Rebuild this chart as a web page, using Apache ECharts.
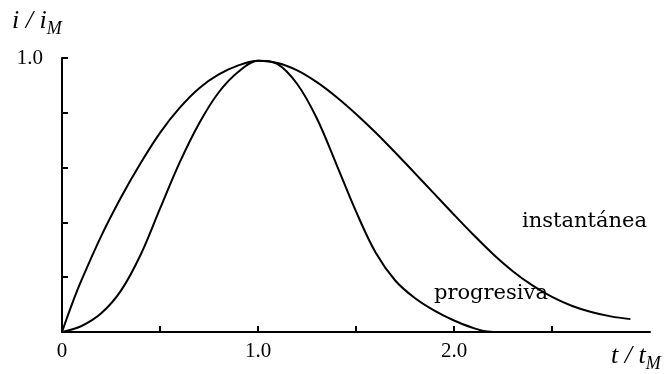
<!DOCTYPE html>
<html>
<head>
<meta charset="utf-8">
<script src="https://cdn.jsdelivr.net/npm/echarts@6/dist/echarts.min.js"></script>
<style>
html,body{margin:0;padding:0;background:#fff;}
#chart{width:664px;height:374px;}
</style>
</head>
<body>
<div id="chart"></div>
<script>
// Values (t/tM, i/iM)
var tInstantanea = [0, 0.05, 0.1, 0.2, 0.3, 0.4, 0.5, 0.6, 0.7, 0.8, 0.9, 1.0, 1.1, 1.2, 1.3, 1.4, 1.5, 1.6, 1.7, 1.8, 1.9, 2.0, 2.1, 2.2, 2.3, 2.4, 2.5, 2.6, 2.7, 2.8, 2.9];
var vInstantanea = [0, 0.1, 0.19, 0.35, 0.49, 0.615, 0.727, 0.818, 0.89, 0.94, 0.973, 0.99, 0.982, 0.955, 0.912, 0.858, 0.796, 0.728, 0.655, 0.58, 0.504, 0.428, 0.354, 0.284, 0.222, 0.17, 0.128, 0.096, 0.073, 0.057, 0.047];
var tProgresiva = [0, 0.1, 0.2, 0.3, 0.4, 0.5, 0.6, 0.7, 0.8, 0.9, 1.0, 1.1, 1.2, 1.3, 1.4, 1.5, 1.6, 1.7, 1.8, 1.9, 2.0, 2.1, 2.15, 2.2];
var vProgresiva = [0, 0.022, 0.068, 0.15, 0.28, 0.45, 0.618, 0.762, 0.875, 0.95, 0.99, 0.978, 0.905, 0.78, 0.612, 0.44, 0.29, 0.188, 0.124, 0.078, 0.042, 0.014, 0.004, 0];
var xTickLabels = {0: '0', 1: '1.0', 2: '2.0'};
var yTickLabels = {1: '1.0'};
var seriesNames = ['instantánea', 'progresiva'];

function pairs(ts, vs) { return ts.map(function (t, i) { return [t, vs[i]]; }); }

var chart = echarts.init(document.getElementById('chart'), null, {renderer: 'canvas'});
var serif = 'Liberation Serif';
var lineStyle = {color: '#000', width: 2};
var titleRich = {
  a: {fontFamily: serif, fontStyle: 'italic', fontSize: 26, fill: '#000', verticalAlign: 'top', lineHeight: 26},
  b: {fontFamily: serif, fontStyle: 'italic', fontSize: 18, fill: '#000', verticalAlign: 'bottom', lineHeight: 30, padding: [12, 0, 0, 0]}
};
chart.setOption({
  animation: false,
  backgroundColor: '#fff',
  grid: {left: 62, right: 14, top: 58, bottom: 42},
  xAxis: {
    type: 'value', min: 0, max: 3, interval: 0.5,
    axisLine: {show: true, onZero: false, lineStyle: {color: '#000', width: 2}},
    axisTick: {show: true, inside: true, length: 6, lineStyle: {color: '#000', width: 2}},
    splitLine: {show: false},
    axisLabel: {
      margin: 9, color: '#000', fontFamily: serif, fontSize: 21,
      showMaxLabel: false,
      formatter: function (v) { return xTickLabels[v] !== undefined ? xTickLabels[v] : ''; }
    }
  },
  yAxis: {
    type: 'value', min: 0, max: 1, interval: 0.2,
    axisLine: {show: true, lineStyle: {color: '#000', width: 2}},
    axisTick: {show: true, inside: true, length: 6, lineStyle: {color: '#000', width: 2}},
    splitLine: {show: false},
    axisLabel: {
      margin: 19, color: '#000', fontFamily: serif, fontSize: 21,
      formatter: function (v) { return yTickLabels[v] !== undefined ? yTickLabels[v] : ''; }
    }
  },
  series: [
    {name: seriesNames[0], type: 'line', data: pairs(tInstantanea, vInstantanea), smooth: 0.35, showSymbol: false, lineStyle: lineStyle},
    {name: seriesNames[1], type: 'line', data: pairs(tProgresiva, vProgresiva), smooth: 0.35, showSymbol: false, lineStyle: lineStyle}
  ],
  graphic: [
    {type: 'text', left: 12, top: 8, style: {text: '{a|i / i}{b|M}', fill: '#000', rich: titleRich}},
    {type: 'text', left: 611, top: 343, style: {text: '{a|t / t}{b|M}', fill: '#000', rich: titleRich}},
    {type: 'text', left: 522, top: 211, style: {text: seriesNames[0], fill: '#000', font: '21px "DejaVu Serif"'}},
    {type: 'text', left: 434, top: 283, style: {text: seriesNames[1], fill: '#000', font: '21px "DejaVu Serif"'}}
  ]
});
</script>
</body>
</html>
